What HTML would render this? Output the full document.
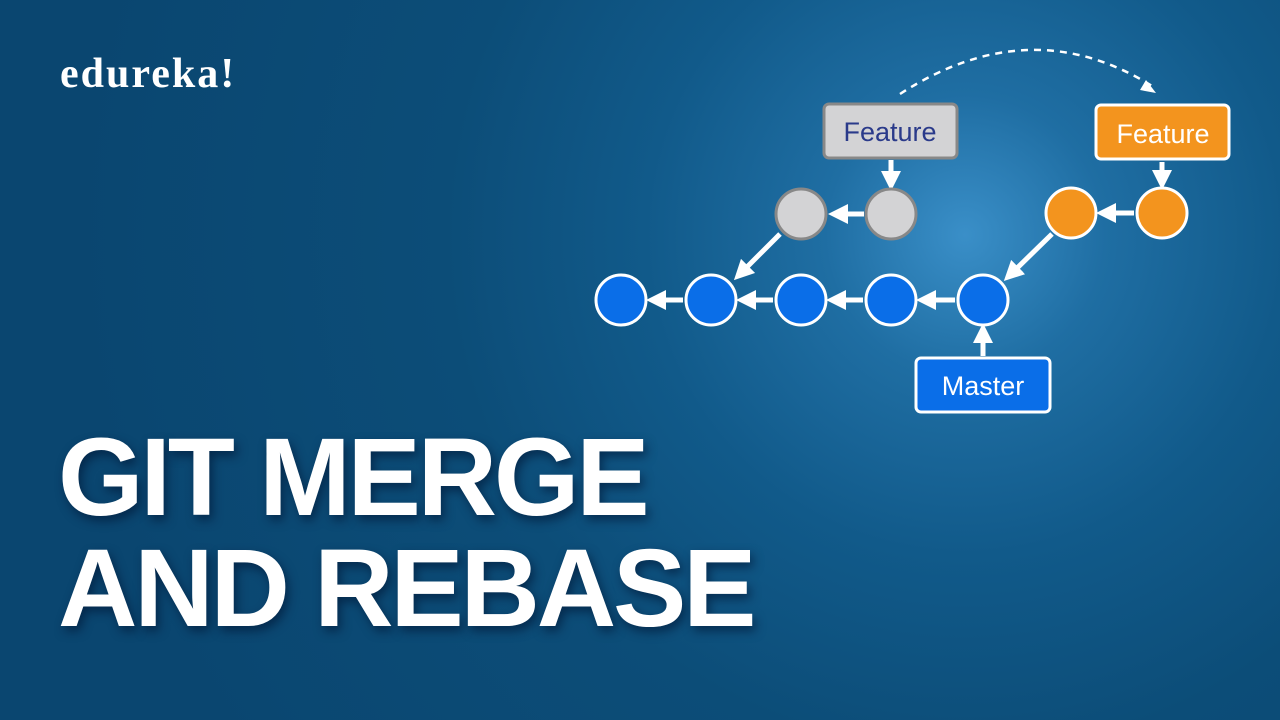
<!DOCTYPE html>
<html><head><style>
html,body{margin:0;padding:0}
body{width:1280px;height:720px;overflow:hidden;position:relative;font-family:"Liberation Sans",sans-serif;
background:radial-gradient(circle at 965px 235px,#3a8fc8 0px,#1f6ea3 140px,#115a8a 320px,#0c4d78 520px,#0a4670 900px);}
.logo{position:absolute;left:60px;top:50px;color:#fff;font-size:42px;font-weight:bold;letter-spacing:2px;font-family:"Liberation Serif",serif}
.t{position:absolute;left:58px;color:#fff;font-weight:bold;font-size:110px;letter-spacing:-3.2px;line-height:1;text-shadow:3px 5px 10px rgba(0,20,50,.6)}
</style></head><body>
<div class="logo">edureka!</div>
<div class="t" style="top:423px">GIT MERGE</div>
<div class="t" style="top:534px">AND REBASE</div>
<svg width="1280" height="720" style="position:absolute;left:0;top:0" font-family="Liberation Sans, sans-serif">
<defs><marker id="a" markerWidth="4" markerHeight="4" refX="2" refY="2" orient="auto" markerUnits="strokeWidth"><path d="M0,0 L4,2 L0,4z" fill="#fff"/></marker></defs>
<path d="M900,94 Q1030,10 1152,86" fill="none" stroke="#fff" stroke-width="2.5" stroke-dasharray="7,6"/>
<path d="M1146,80 L1156,93 L1140,90z" fill="#fff"/>
<g stroke="#fff" stroke-width="5" marker-end="url(#a)">
<line x1="683" y1="300" x2="656" y2="300"/>
<line x1="773" y1="300" x2="746" y2="300"/>
<line x1="863" y1="300" x2="836" y2="300"/>
<line x1="955" y1="300" x2="926" y2="300"/>
<line x1="864" y1="214" x2="838" y2="214"/>
<line x1="1134" y1="213" x2="1106" y2="213"/>
<line x1="780" y1="234" x2="741" y2="273"/>
<line x1="1052" y1="234" x2="1011" y2="274"/>
<line x1="983" y1="356" x2="983" y2="333"/>
<line x1="891" y1="160" x2="891" y2="181"/>
<line x1="1162" y1="162" x2="1162" y2="180"/>
</g>
<g stroke="#fff" stroke-width="3" fill="#0a6ee8">
<circle cx="621" cy="300" r="25"/><circle cx="711" cy="300" r="25"/><circle cx="801" cy="300" r="25"/><circle cx="891" cy="300" r="25"/><circle cx="983" cy="300" r="25"/>
</g>
<g stroke="#888" stroke-width="3" fill="#d3d3d5"><circle cx="801" cy="214" r="25"/><circle cx="891" cy="214" r="25"/></g>
<g stroke="#fff" stroke-width="3" fill="#f3941e"><circle cx="1071" cy="213" r="25"/><circle cx="1162" cy="213" r="25"/></g>
<rect x="824" y="104" width="133" height="54" rx="5" fill="#d3d3d5" stroke="#888" stroke-width="3"/>
<text x="890" y="141" text-anchor="middle" font-size="27" fill="#2a3a8a">Feature</text>
<rect x="1096" y="105" width="133" height="54" rx="5" fill="#f3941e" stroke="#fff" stroke-width="3"/>
<text x="1163" y="143" text-anchor="middle" font-size="27" fill="#fff">Feature</text>
<rect x="916" y="358" width="134" height="54" rx="5" fill="#0a6ee8" stroke="#fff" stroke-width="3"/>
<text x="983" y="395" text-anchor="middle" font-size="27" fill="#fff">Master</text>
</svg>
</body></html>
